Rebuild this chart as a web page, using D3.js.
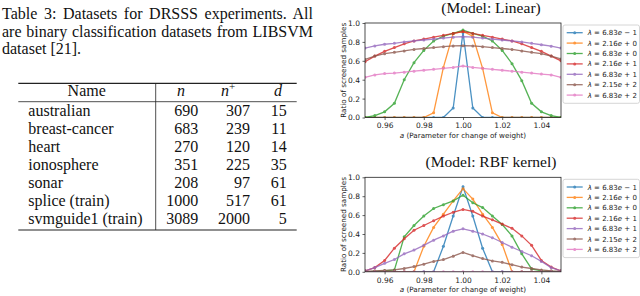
<!DOCTYPE html>
<html>
<head>
<meta charset="utf-8">
<script src="https://cdn.jsdelivr.net/npm/d3@7"></script>
<style>
  body { margin: 0; background: #fff; }
  svg { display: block; }
</style>
</head>
<body>
<div id="fig"></div>
<script>
// ---- data ----
const captionLines = [
  'Table 3: Datasets for DRSSS experiments. All',
  'are binary classification datasets from LIBSVM',
  'dataset [21].'
]
const tableNames = ['australian', 'breast-cancer', 'heart', 'ionosphere', 'sonar', 'splice (train)', 'svmguide1 (train)']
const tableN = [690, 683, 270, 351, 208, 1000, 3089]
const tableNPlus = [307, 239, 120, 225, 97, 517, 2000]
const tableD = [15, 11, 14, 35, 61, 61, 5]

const aValues = [0.95, 0.955, 0.96, 0.965, 0.97, 0.975, 0.98, 0.985, 0.99, 0.995, 1.0,
  1.005, 1.01, 1.015, 1.02, 1.025, 1.03, 1.035, 1.04, 1.045, 1.05]
const xTicks = [0.96, 0.98, 1.0, 1.02, 1.04]
const yTicks = [0, 0.2, 0.4, 0.6, 0.8, 1.0]

const lambdaMant = ['6.83', '2.16', '6.83', '2.16', '6.83', '2.15', '6.83']
const lambdaExp = ['− 1', '+ 0', '+ 0', '+ 1', '+ 1', '+ 2', '+ 2']
const colors = ['#1f77b4', '#ff7f0e', '#2ca02c', '#d62728', '#9467bd', '#8c564b', '#e377c2']

const linearRatio = [
  [0, 0, 0, 0, 0, 0, 0, 0, 0, 0.1, 0.9, 0.1, 0, 0, 0, 0, 0, 0, 0, 0, 0],
  [0, 0, 0, 0, 0, 0, 0, 0.05, 0.53, 0.89, 0.91, 0.86, 0.52, 0.05, 0, 0, 0, 0, 0, 0, 0],
  [0, 0.02, 0.06, 0.15, 0.4, 0.58, 0.71, 0.81, 0.86, 0.89, 0.925, 0.89, 0.86, 0.81, 0.71, 0.57, 0.39, 0.15, 0.06, 0.02, 0],
  [0.59, 0.65, 0.7, 0.74, 0.78, 0.81, 0.83, 0.85, 0.87, 0.89, 0.91, 0.89, 0.87, 0.85, 0.83, 0.81, 0.78, 0.74, 0.7, 0.65, 0.6],
  [0.735, 0.757, 0.775, 0.785, 0.8, 0.81, 0.82, 0.83, 0.84, 0.85, 0.855, 0.85, 0.84, 0.83, 0.82, 0.81, 0.8, 0.785, 0.77, 0.755, 0.735],
  [0.615, 0.65, 0.675, 0.69, 0.705, 0.72, 0.73, 0.74, 0.75, 0.757, 0.76, 0.757, 0.75, 0.74, 0.73, 0.72, 0.705, 0.69, 0.675, 0.65, 0.62],
  [0.425, 0.45, 0.465, 0.47, 0.48, 0.49, 0.5, 0.51, 0.52, 0.53, 0.545, 0.53, 0.52, 0.51, 0.5, 0.49, 0.48, 0.47, 0.46, 0.45, 0.425]
]

const rbfRatio = [
  [0, 0, 0, 0, 0, 0, 0, 0, 0.27, 0.59, 0.9, 0.59, 0.25, 0, 0, 0, 0, 0, 0, 0, 0],
  [0, 0, 0, 0, 0, 0, 0.27, 0.47, 0.61, 0.75, 0.88, 0.77, 0.61, 0.47, 0.29, 0, 0, 0, 0, 0, 0],
  [0, 0.005, 0.01, 0.02, 0.37, 0.49, 0.59, 0.67, 0.71, 0.75, 0.81, 0.73, 0.68, 0.59, 0.5, 0.38, 0.19, 0.03, 0.01, 0.005, 0],
  [0.01, 0.045, 0.12, 0.25, 0.35, 0.44, 0.49, 0.54, 0.59, 0.63, 0.66, 0.64, 0.59, 0.55, 0.505, 0.46, 0.38, 0.28, 0.12, 0.05, 0.01],
  [0.01, 0.045, 0.09, 0.13, 0.19, 0.23, 0.28, 0.335, 0.38, 0.43, 0.455, 0.43, 0.4, 0.36, 0.31, 0.26, 0.215, 0.17, 0.11, 0.045, 0.01],
  [0.005, 0.01, 0.015, 0.02, 0.035, 0.055, 0.08, 0.11, 0.13, 0.165, 0.205, 0.17, 0.14, 0.115, 0.1, 0.075, 0.05, 0.035, 0.02, 0.01, 0.005],
  [0, 0, 0, 0, 0, 0, 0, 0, 0, 0, 0, 0, 0, 0, 0, 0, 0, 0, 0, 0, 0]
]

// ---- layout ----
const width = 640
const height = 296
const serif = 'Liberation Serif, Times New Roman, serif'
const sans = 'DejaVu Sans, sans-serif'

const svg = d3
  .select('#fig')
  .append('svg')
  .attr('width', width)
  .attr('height', height)
  .style('font-family', sans)

// ---- caption ----
const captionWidth = 311
captionLines.forEach(function(line, i) {
  const t = svg
    .append('text')
    .attr('x', 2)
    .attr('y', 19 + i * 17.5)
    .style('font-family', serif)
    .style('font-size', '16px')
    .attr('fill', '#111')
    .text(line)
  if (i < captionLines.length - 1) {
    const natural = t.node().getComputedTextLength()
    const spaces = line.split(' ').length - 1
    t.style('word-spacing', (captionWidth - natural) / spaces + 'px')
  }
})

// ---- table ----
const tbl = svg.append('g').style('font-family', serif).style('font-size', '16px').attr('fill', '#111')
const ruleLeft = 18.3
const ruleRight = 296.7
const topRule = 83.3
const midRule = 101.7
const bottomRule = 230
const vLine = 155.7
const rowY = d3.scaleLinear().domain([0, tableNames.length - 1]).range([115.5, 224.1])

tbl.append('line').attr('x1', ruleLeft).attr('x2', ruleRight).attr('y1', topRule).attr('y2', topRule)
  .attr('stroke', '#222').attr('stroke-width', 1.2)
tbl.append('line').attr('x1', ruleLeft).attr('x2', ruleRight).attr('y1', midRule).attr('y2', midRule)
  .attr('stroke', '#222').attr('stroke-width', 0.8)
tbl.append('line').attr('x1', ruleLeft).attr('x2', ruleRight).attr('y1', bottomRule).attr('y2', bottomRule)
  .attr('stroke', '#222').attr('stroke-width', 1.2)
tbl.append('line').attr('x1', vLine).attr('x2', vLine).attr('y1', topRule).attr('y2', bottomRule)
  .attr('stroke', '#222').attr('stroke-width', 0.8)

const headerY = 95.7
tbl.append('text').attr('x', 86.7).attr('y', headerY).attr('text-anchor', 'middle').text('Name')
tbl.append('text').attr('x', 181).attr('y', headerY).attr('text-anchor', 'middle')
  .style('font-style', 'italic').text('n')
const nPlus = tbl.append('text').attr('x', 228).attr('y', headerY).attr('text-anchor', 'middle')
nPlus.append('tspan').style('font-style', 'italic').text('n')
nPlus.append('tspan').attr('dy', -6).style('font-size', '11px').text('+')
tbl.append('text').attr('x', 278).attr('y', headerY).attr('text-anchor', 'middle')
  .style('font-style', 'italic').text('d')

tbl.selectAll('.name').data(tableNames).enter().append('text')
  .attr('class', 'name').attr('x', 28.3).attr('y', (d, i) => rowY(i)).text(d => d)
tbl.selectAll('.nval').data(tableN).enter().append('text')
  .attr('class', 'nval').attr('x', 198.3).attr('y', (d, i) => rowY(i)).attr('text-anchor', 'end').text(d => d)
tbl.selectAll('.npval').data(tableNPlus).enter().append('text')
  .attr('class', 'npval').attr('x', 250).attr('y', (d, i) => rowY(i)).attr('text-anchor', 'end').text(d => d)
tbl.selectAll('.dval').data(tableD).enter().append('text')
  .attr('class', 'dval').attr('x', 286.7).attr('y', (d, i) => rowY(i)).attr('text-anchor', 'end').text(d => d)

// ---- charts ----
const plotLeft = 365
const plotRight = 561
const plotHeight = 94.5

function drawChart(top, title, series, id) {
  const g = svg.append('g')
  const x = d3.scaleLinear().domain([0.95, 1.05]).range([plotLeft, plotRight])
  const y = d3.scaleLinear().domain([0, 1]).range([top + plotHeight, top])

  g.append('clipPath').attr('id', 'clip-' + id)
    .append('rect').attr('x', plotLeft).attr('y', top)
    .attr('width', plotRight - plotLeft).attr('height', plotHeight)

  const line = d3.line().x((d, i) => x(aValues[i])).y(d => y(d))
  const plot = g.append('g').attr('clip-path', 'url(#clip-' + id + ')')
  series.forEach(function(vals, k) {
    const s = plot.append('g').attr('opacity', 0.8)
    s.append('path').datum(vals).attr('d', line).attr('fill', 'none')
      .attr('stroke', colors[k]).attr('stroke-width', 1.3)
    s.selectAll('circle').data(vals).enter().append('circle')
      .attr('cx', (d, i) => x(aValues[i])).attr('cy', d => y(d)).attr('r', 1.5)
      .attr('fill', colors[k])
  })

  const xAxis = g.append('g').attr('transform', 'translate(0,' + (top + plotHeight) + ')')
    .call(d3.axisBottom(x).tickValues(xTicks).tickFormat(d3.format('.2f')).tickSize(2.5).tickSizeOuter(0).tickPadding(3))
  const yAxis = g.append('g').attr('transform', 'translate(' + plotLeft + ',0)')
    .call(d3.axisLeft(y).tickValues(yTicks).tickFormat(d3.format('.1f')).tickSize(2.5).tickSizeOuter(0).tickPadding(2.5))
  ;[xAxis, yAxis].forEach(function(ax) {
    ax.select('.domain').remove()
    ax.selectAll('text').style('font-family', sans).style('font-size', '7.5px').attr('fill', '#222')
    ax.selectAll('line').attr('stroke', '#222').attr('stroke-width', 0.7)
  })

  g.append('rect').attr('x', plotLeft).attr('y', top)
    .attr('width', plotRight - plotLeft).attr('height', plotHeight)
    .attr('fill', 'none').attr('stroke', '#222').attr('stroke-width', 0.8)

  g.append('text').attr('x', 491).attr('y', top - 10.5).attr('text-anchor', 'middle')
    .style('font-family', serif).style('font-size', '15.5px').attr('fill', '#111').text(title)

  const xl = g.append('text').attr('x', (plotLeft + plotRight) / 2).attr('y', top + plotHeight + 20.5)
    .attr('text-anchor', 'middle').style('font-size', '7.2px').attr('fill', '#222')
  xl.append('tspan').style('font-style', 'italic').text('a')
  xl.append('tspan').text(' (Parameter for change of weight)')

  g.append('text')
    .attr('transform', 'translate(345.5,' + (top + plotHeight / 2) + ') rotate(-90)')
    .attr('text-anchor', 'middle').style('font-size', '7.2px').attr('fill', '#222')
    .text('Ratio of screened samples')

  // legend
  const lg = g.append('g')
  const legTop = top + 2
  lg.append('rect').attr('x', 563).attr('y', legTop).attr('width', 76.5).attr('height', 78.3)
    .attr('rx', 2).attr('fill', '#fff').attr('stroke', '#ccc').attr('stroke-width', 0.8)
  lambdaMant.forEach(function(m, k) {
    const ly = legTop + 7.7 + k * 10.4
    const item = lg.append('g').attr('opacity', 0.8)
    item.append('line').attr('x1', 566.7).attr('x2', 582.7).attr('y1', ly).attr('y2', ly)
      .attr('stroke', colors[k]).attr('stroke-width', 1.3)
    item.append('circle').attr('cx', 574.7).attr('cy', ly).attr('r', 1.5).attr('fill', colors[k])
    const t = lg.append('text').attr('x', 587.7).attr('y', ly + 2.5).style('font-size', '7px').attr('fill', '#222')
    t.append('tspan').style('font-style', 'italic').text('λ')
    t.append('tspan').text(' = ' + m)
    t.append('tspan').style('font-style', 'italic').text('e')
    t.append('tspan').text(' ' + lambdaExp[k])
  })
}

drawChart(23, '(Model: Linear)', linearRatio, 'lin')
drawChart(177.3, '(Model: RBF kernel)', rbfRatio, 'rbf')
</script>
</body>
</html>
